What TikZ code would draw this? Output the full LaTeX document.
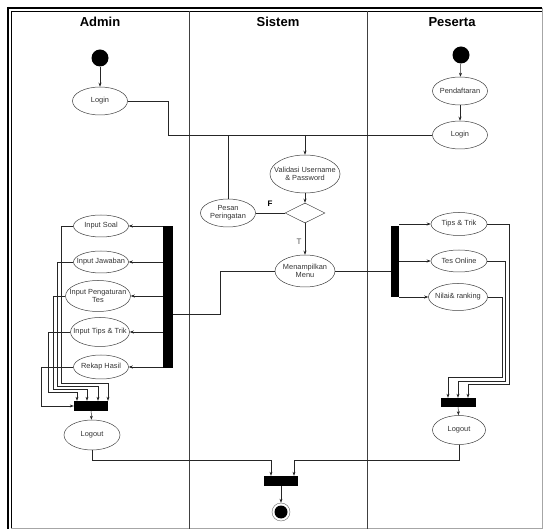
\documentclass[tikz,border=0pt]{standalone}
\usepackage{fontspec}
\setsansfont{Liberation Sans}
\usepackage{tikz}
\usetikzlibrary{shapes.geometric, arrows.meta, positioning, calc}
\tikzstyle{activity} = [ellipse, draw=black!75, line width=0.5pt, minimum width=55pt, minimum height=28pt, inner xsep=-6pt, inner ysep=0pt, align=center, text=black!80, font=\fontsize{7.4}{7.8}\selectfont\sffamily]
\tikzstyle{startnode} = [circle, fill=black, minimum size=17pt, inner sep=0pt]
\tikzstyle{endnode} = [circle, draw=black!60, thin, minimum size=18pt, inner sep=0pt, path picture={\fill[black] (path picture bounding box.center) circle (6.5pt);}]
\tikzstyle{syncbar} = [rectangle, fill=black, inner sep=0pt]
\tikzstyle{decision} = [diamond, draw=black!75, line width=0.5pt, minimum width=40pt, minimum height=20pt, inner sep=0pt]
\tikzstyle{lanetitle} = [font=\fontsize{13}{15}\selectfont\sffamily\bfseries]
\tikzstyle{arrow} = [-{Stealth[length=4pt,width=3pt]}, draw=black!85, line width=0.5pt]
\tikzstyle{flow} = [draw=black!85, line width=0.5pt]
\begin{document}
\begin{tikzpicture}[x=1pt, y=-1pt]
    \useasboundingbox (0,0) rectangle (544,529);
    % frame and swimlanes
    \draw [line width=2pt] (7,8) -- (542,8);
    \draw [line width=2pt] (8,7) -- (8,529);
    \draw [line width=0.8pt] (11,11) -- (542,11);
    \draw [line width=0.8pt] (11,11) -- (11,529);
    \draw [black!35, thin] (542,8) -- (542,528) -- (11,528);
    \draw [black!75, line width=1pt] (189,11) -- (189,529);
    \draw [black!75, line width=1pt] (367,11) -- (367,529);

    \node (tAdmin) [lanetitle] at (100,22) {Admin};
    \node (tSistem) [lanetitle] at (278,22) {Sistem};
    \node (tPeserta) [lanetitle] at (452,22) {Peserta};

    % Admin
    \node (startA) [startnode] at (100,58) {};
    \node (loginA) [activity] at (100,101) {Login};
    \node (inSoal) [activity, minimum height=22pt] at (101,226) {Input Soal};
    \node (inJawab) [activity, minimum height=22pt] at (101,262) {Input Jawaban};
    \node (inAtur) [activity, minimum width=65pt, minimum height=31pt] at (98,296) {Input Pengaturan\\Tes};
    \node (inTips) [activity, minimum width=59pt, minimum height=29pt] at (100,332) {Input Tips \& Trik};
    \node (rekap) [activity, minimum height=24pt] at (101,367) {Rekap Hasil};
    \node (barA) [syncbar, minimum width=10pt, minimum height=142pt] at (168,297) {};
    \node (joinA) [syncbar, minimum width=34pt, minimum height=10pt] at (91,406) {};
    \node (logoutA) [activity, minimum width=56pt, minimum height=30pt] at (92,435) {Logout};

    % Sistem
    \node (validasi) [activity, minimum width=70pt, minimum height=38pt] at (305,174) {Validasi Username\\\& Password};
    \node (cek) [decision] at (305,213) {};
    \node (pesan) [activity] at (228,213) {Pesan\\Peringatan};
    \node (menu) [activity, minimum width=60pt, minimum height=32pt] at (305,271) {Menampilkan\\Menu};
    \node (joinEnd) [syncbar, minimum width=34pt, minimum height=10pt] at (281,481) {};
    \node (final) [endnode] at (281,512) {};
    \node (lblF) [font=\fontsize{8}{8}\selectfont\sffamily\bfseries] at (270,204) {F};
    \node (lblT) [font=\fontsize{8}{8}\selectfont\sffamily, text=black!70] at (299,242) {T};

    % Peserta
    \node (startP) [startnode] at (461,55) {};
    \node (daftar) [activity] at (460,91) {Pendaftaran};
    \node (loginP) [activity] at (460,135) {Login};
    \node (barP) [syncbar, minimum width=8pt, minimum height=71pt] at (395,261.5) {};
    \node (tipsP) [activity, minimum width=56pt, minimum height=23pt] at (459,224) {Tips \& Trik};
    \node (tesP) [activity, minimum width=56pt, minimum height=22pt] at (459,261) {Tes Online};
    \node (nilai) [activity, minimum width=59pt, minimum height=27pt] at (458,297) {Nilai\& ranking};
    \node (joinP) [syncbar, minimum width=35pt, minimum height=9pt] at (458,402.5) {};
    \node (logoutP) [activity, minimum width=53pt, minimum height=29pt] at (459,430) {Logout};

    % login flow
    \coordinate (merge) at (305,135);
    \draw [arrow] (startA) -- (loginA);
    \draw [arrow] (startP) -- (daftar);
    \draw [arrow] (daftar) -- (loginP);
    \draw [flow] (loginA.east) -| (168,135) -- (merge);
    \draw [flow] (loginP.west) -- (merge);
    \draw [arrow] (merge) -- (validasi);
    \draw [arrow] (validasi) -- (cek);
    \draw [flow] (cek.west) -- (pesan.east);
    \draw [flow] (pesan.north) -- (pesan.north |- merge);
    \draw [arrow] (cek.south) -- (menu.north);
    \draw [flow] (menu.west) -- (220,271) |- ([yshift=-17pt]barA.east);
    \draw [flow] (menu.east) -- (menu.east -| barP.west);

    % Admin activities
    \foreach \n in {inSoal, inJawab, inAtur, inTips, rekap}
        \draw [arrow] (barA.west |- \n) -- (\n.east);
    \foreach \n/\x/\y/\s in {inSoal/61/383/17, inJawab/57/386/7, inAtur/53/389/-4, inTips/48/392/-14}
        \draw [arrow] (\n.west) -| (\x,\y) -| ([xshift=\s pt]joinA.north);
    \draw [arrow] (rekap.west) -| (41,406) -- (joinA.west);
    \draw [arrow] (joinA) -- (logoutA);

    % Peserta activities
    \foreach \n in {tipsP, tesP, nilai}
        \draw [arrow] (barP.east |- \n) -- (\n.west);
    \foreach \n/\x/\y/\s in {tipsP/509/384/10, tesP/505/381/0, nilai/502/377/-10}
        \draw [arrow] (\n.east) -| (\x,\y) -| ([xshift=\s pt]joinP.north);
    \draw [arrow] (joinP) -- (logoutP);

    % end
    \draw [arrow] (logoutA.south) |- (271,460) -- ([xshift=-10pt]joinEnd.north);
    \draw [arrow] (logoutP.south) |- (294,460) -- ([xshift=13pt]joinEnd.north);
    \draw [arrow] (joinEnd) -- (final);
\end{tikzpicture}
\end{document}
